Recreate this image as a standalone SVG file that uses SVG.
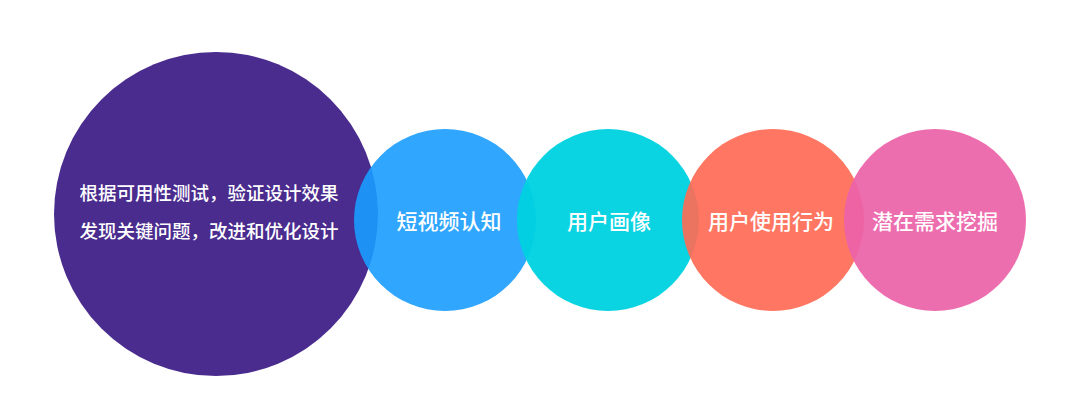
<svg xmlns="http://www.w3.org/2000/svg" width="1080" height="420" viewBox="0 0 1080 420">
<style>
.lbl{font-family:"Noto Sans CJK SC","Noto Sans",sans-serif;fill:#ffffff;text-anchor:middle;dominant-baseline:central;font-weight:500}
.big{font-size:18.5px}
.sm{font-size:21px}
</style>
<rect width="1080" height="420" fill="#ffffff"/>
<g id="connectors"></g>
<g id="node-main">
<circle cx="216" cy="214" r="162" fill="#4A2B8E"/>
<text class="lbl big" x="209" y="192">根据可用性测试，验证设计效果</text>
<text class="lbl big" x="209" y="230">发现关键问题，改进和优化设计</text>
</g>
<g id="node-1">
<circle cx="445" cy="220" r="91" fill="#1A9CFF" fill-opacity="0.9"/>
<text class="lbl sm" x="449" y="220">短视频认知</text>
</g>
<g id="node-2">
<circle cx="608" cy="220" r="91" fill="#00D1E1" fill-opacity="0.96"/>
<text class="lbl sm" x="609" y="220">用户画像</text>
</g>
<g id="node-3">
<circle cx="773" cy="220" r="91" fill="#FF6B55" fill-opacity="0.92"/>
<text class="lbl sm" x="771" y="220">用户使用行为</text>
</g>
<g id="node-4">
<circle cx="935" cy="220" r="91" fill="#EC62A8" fill-opacity="0.92"/>
<text class="lbl sm" x="935" y="220">潜在需求挖掘</text>
</g>
</svg>
